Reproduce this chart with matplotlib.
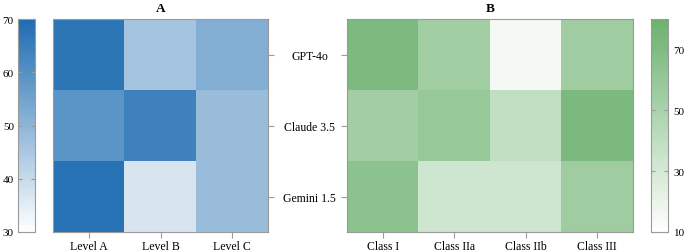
import numpy as np
from matplotlib import pyplot as plt
from matplotlib.colors import LinearSegmentedColormap

plt.rcParams['font.family'] = ['Liberation Serif', 'DejaVu Serif']

# data
models = ['GPT-4o', 'Claude 3.5', 'Gemini 1.5']
levels = ['Level A', 'Level B', 'Level C']
classes = ['Class I', 'Class IIa', 'Class IIb', 'Class III']

level_scores = np.array([
    [67, 46, 52],
    [59, 64, 48],
    [68, 37, 48],
])
class_scores = np.array([
    [71, 54, 15, 55],
    [53, 59, 39, 72],
    [64, 33, 33, 55],
])

blue_cmap = LinearSegmentedColormap.from_list('wb', ['#ffffff', '#1d6cb1'])
green_cmap = LinearSegmentedColormap.from_list('wg', ['#ffffff', '#6bb16e'])
edge = '#9a9a9a'

fig = plt.figure(figsize=(6.88, 2.53), dpi=100)
cax_a = fig.add_axes([18/688, 20/253, 17/688, 213/253])
ax_a = fig.add_axes([53/688, 20/253, 215/688, 213/253])
ax_b = fig.add_axes([347/688, 20/253, 286/688, 213/253])
cax_b = fig.add_axes([651/688, 20/253, 17/688, 213/253])

im_a = ax_a.imshow(level_scores, cmap=blue_cmap, vmin=30, vmax=70, aspect='auto')
im_b = ax_b.imshow(class_scores, cmap=green_cmap, vmin=10, vmax=80, aspect='auto')

for ax, cols, title in [(ax_a, levels, 'A'), (ax_b, classes, 'B')]:
    ax.set_xticks(range(len(cols)))
    ax.set_xticklabels(cols, fontsize=8.5)
    ax.set_yticks(range(len(models)))
    ax.set_title(title, fontsize=9.5, fontweight='bold', pad=6)
    ax.tick_params(axis='both', length=4, color=edge, width=0.8, pad=2)
    for s in ax.spines.values():
        s.set_color(edge)
        s.set_linewidth(0.8)

ax_a.tick_params(axis='y', left=False, right=True, labelleft=False, labelright=False)
ax_b.set_yticklabels(models, fontsize=8.5, ha='center')
ax_b.tick_params(axis='y', pad=23)

cb_a = fig.colorbar(im_a, cax=cax_a, ticks=[30, 40, 50, 60, 70])
cax_a.tick_params(left=True, right=True, labelleft=True, labelright=False,
                  direction='in', length=3, color=edge, labelsize=8, pad=3)
cb_b = fig.colorbar(im_b, cax=cax_b, ticks=[10, 30, 50, 70])
cax_b.tick_params(left=True, right=True, labelleft=False, labelright=True,
                  direction='in', length=3, color=edge, labelsize=8, pad=4)
for cb in (cb_a, cb_b):
    cb.outline.set_edgecolor(edge)
    cb.outline.set_linewidth(0.8)

plt.savefig('out.png', dpi=100)
